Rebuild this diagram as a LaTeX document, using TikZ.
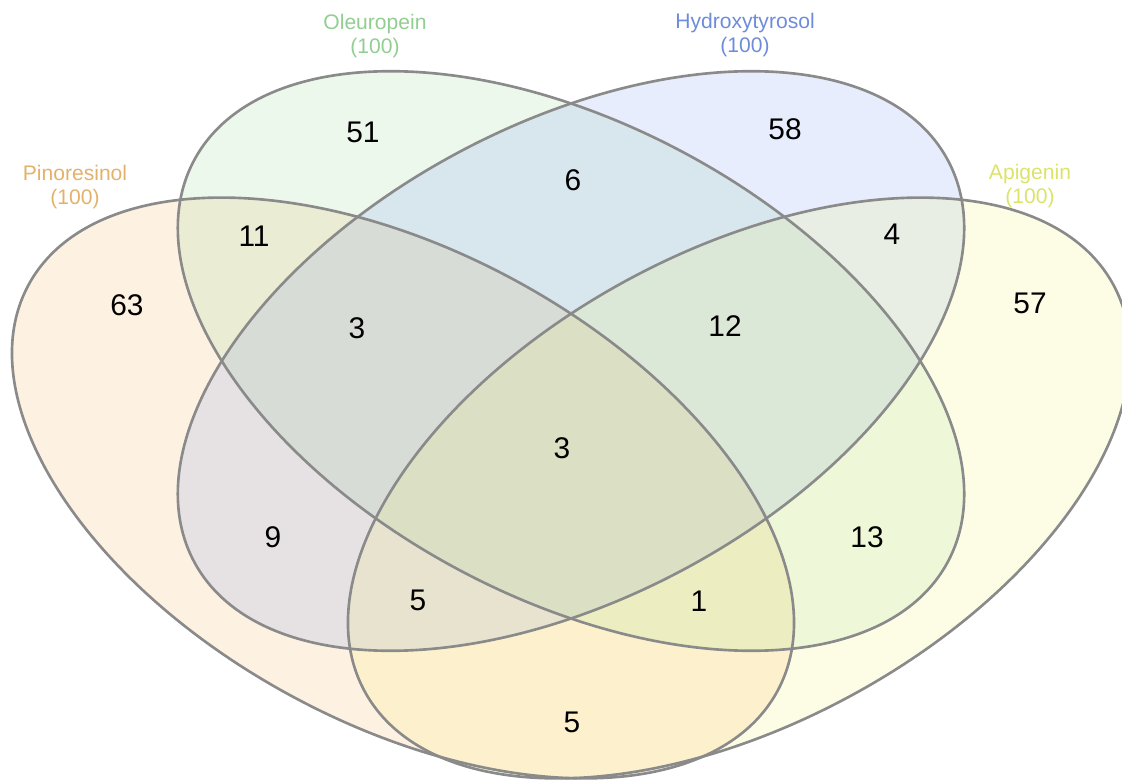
\documentclass[tikz,border=0pt]{standalone}
\usepackage{fontspec}
\setmainfont{Liberation Sans}
\definecolor{cP}{HTML}{F4A742}
\definecolor{cO}{HTML}{8FD18F}
\definecolor{cH}{HTML}{6C8EEB}
\definecolor{cA}{HTML}{F4F45A}
\definecolor{tP}{HTML}{E2B26C}
\definecolor{tO}{HTML}{92CE92}
\definecolor{tH}{HTML}{6F8CDA}
\definecolor{tA}{HTML}{DCE36A}
\definecolor{lineg}{HTML}{8A8A8A}
\begin{document}
\begin{tikzpicture}[x=0.02cm,y=0.02cm,
  setfill/.style={fill opacity=0.16},
  outline/.style={draw=lineg, line width=1.5pt},
  num/.style={font=\fontsize{17}{20}\selectfont, text=black, inner sep=0pt},
  lab/.style={font=\fontsize{12}{14}\selectfont, align=center, inner sep=0pt}]
\useasboundingbox (0,0) rectangle (1122,-780);
% centres of the four ellipses
\coordinate (cenP) at (403,-488);
\coordinate (cenO) at (571,-361);
\coordinate (cenH) at (571,-361);
\coordinate (cenA) at (739,-488);
% fills
\path[setfill, fill=cP, rotate around={-28.5:(cenP)}] (cenP) ellipse [x radius=426, y radius=236];
\path[setfill, fill=cO, rotate around={-28.0:(cenO)}] (cenO) ellipse [x radius=427, y radius=237];
\path[setfill, fill=cH, rotate around={28.0:(cenH)}] (cenH) ellipse [x radius=427, y radius=237];
\path[fill opacity=0.15, fill=cA, rotate around={28.5:(cenA)}] (cenA) ellipse [x radius=426, y radius=236];
% outlines
\draw[outline, rotate around={-28.5:(cenP)}] (cenP) ellipse [x radius=426, y radius=236];
\draw[outline, rotate around={-28.0:(cenO)}] (cenO) ellipse [x radius=427, y radius=237];
\draw[outline, rotate around={28.0:(cenH)}] (cenH) ellipse [x radius=427, y radius=237];
\draw[outline, rotate around={28.5:(cenA)}] (cenA) ellipse [x radius=426, y radius=236];
% set labels
\node[lab, text=tP] (labP) at (75,-187) {Pinoresinol\\(100)};
\node[lab, text=tO] (labO) at (375,-36) {Oleuropein\\(100)};
\node[lab, text=tH] (labH) at (745,-35) {Hydroxytyrosol\\(100)};
\node[lab, text=tA] (labA) at (1030,-186) {Apigenin\\(100)};
% counts
\node[num] (n51) at (363,-132) {51};
\node[num] (n58) at (785,-129) {58};
\node[num] (n6) at (573,-180) {6};
\node[num] (n11) at (254,-236) {11};
\node[num] (n4) at (892,-234) {4};
\node[num] (n63) at (127,-305) {63};
\node[num] (n3a) at (357,-328) {3};
\node[num] (n12) at (725,-326) {12};
\node[num] (n57) at (1030,-303) {57};
\node[num] (n3b) at (562,-448) {3};
\node[num] (n9) at (273,-537) {9};
\node[num] (n13) at (867,-537) {13};
\node[num] (n5a) at (418,-600) {5};
\node[num] (n1) at (699,-601) {1};
\node[num] (n5b) at (572,-722) {5};
\end{tikzpicture}
\end{document}
